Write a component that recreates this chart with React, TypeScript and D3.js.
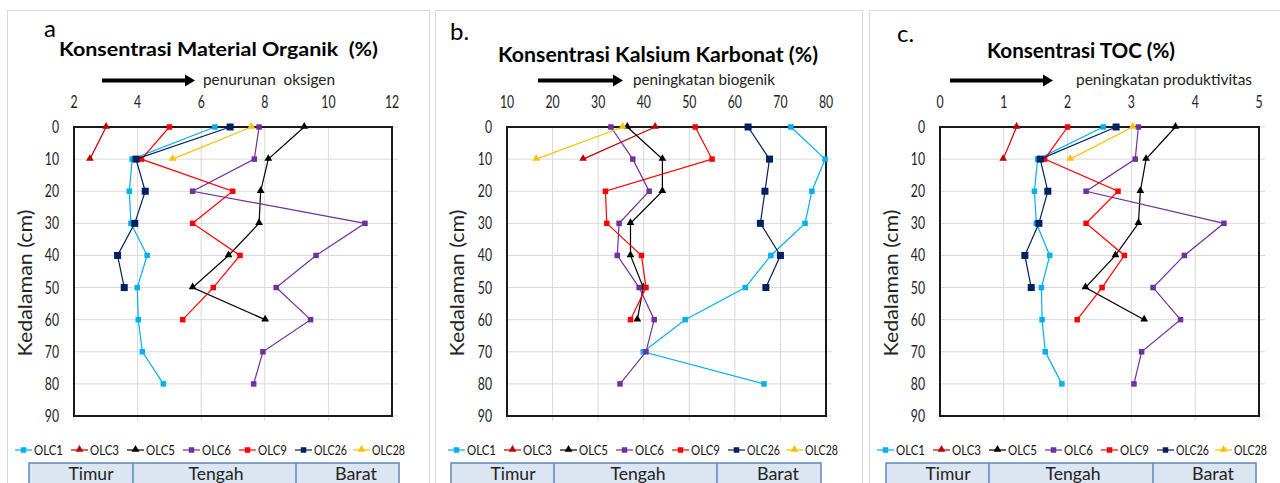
// @ts-nocheck
import React, { useEffect, useRef } from 'react';
import * as d3 from 'd3';

const depths = [0, 10, 20, 30, 40, 50, 60, 70, 80];
const cores = ['OLC1', 'OLC3', 'OLC5', 'OLC6', 'OLC9', 'OLC26', 'OLC28'];
const colors = ['#00b0f0', '#c00000', '#000000', '#7030a0', '#ff0000', '#002060', '#ffc000'];
const shapes = ['square', 'triangle', 'triangle', 'square', 'square', 'bigsquare', 'triangle'];
const regions = ['Timur', 'Tengah', 'Barat'];

// a. organic matter (%)
const organik = [
  [6.43, 3.83, 3.74, 3.79, 4.30, 3.99, 4.02, 4.15, 4.81],
  [3.01, 2.50],
  [9.24, 8.11, 7.87, 7.82, 6.86, 5.73, 8.01],
  [7.82, 7.67, 5.73, 11.15, 9.61, 8.36, 9.44, 7.94, 7.65],
  [5.00, 4.12, 6.99, 5.73, 7.22, 6.38, 5.42],
  [6.91, 3.95, 4.24, 3.91, 3.37, 3.58],
  [7.58, 5.10],
];

// b. calcium carbonate (%)
const karbonat = [
  [72.3, 79.8, 76.9, 75.4, 67.9, 62.3, 49.1, 39.9, 66.4],
  [42.5, 26.7],
  [36.4, 44.1, 44.1, 37.1, 37.1, 39.9, 38.6],
  [32.8, 37.6, 41.2, 34.6, 34.2, 39.0, 42.3, 40.5, 34.8],
  [51.3, 55.0, 31.6, 31.9, 39.5, 40.5, 37.1],
  [62.9, 67.6, 66.6, 65.6, 70.0, 66.8],
  [35.4, 16.4],
];

// c. TOC (%)
const toc = [
  [2.56, 1.53, 1.48, 1.51, 1.72, 1.59, 1.60, 1.65, 1.91],
  [1.20, 0.99],
  [3.69, 3.23, 3.14, 3.11, 2.75, 2.28, 3.20],
  [3.11, 3.06, 2.29, 4.45, 3.83, 3.34, 3.77, 3.16, 3.04],
  [2.00, 1.64, 2.79, 2.29, 2.89, 2.54, 2.15],
  [2.76, 1.57, 1.69, 1.55, 1.33, 1.43],
  [3.02, 2.04],
];

const panels = [
  {
    letter: 'a', letterX: 44, letterY: 37,
    title: 'Konsentrasi Material Organik  (%)', titleX: 59, titleY: 56, titleW: 319, titleSize: 19,
    note: 'penurunan  oksigen', noteX: 203, noteW: 132, arrow: [102, 195],
    box: [7, 429], plot: [74, 392], domain: [2, 12], ticks: [2, 4, 6, 8, 10, 12],
    yLabelX: 26, yTickX: 59, legendX: 15, table: [29, 133, 296, 399], data: organik,
  },
  {
    letter: 'b.', letterX: 450, letterY: 40,
    title: 'Konsentrasi Kalsium Karbonat (%)', titleX: 498, titleY: 62, titleW: 320, titleSize: 20,
    note: 'peningkatan biogenik', noteX: 633, noteW: 142, arrow: [538, 623],
    box: [435, 862], plot: [507, 826], domain: [10, 80], ticks: [10, 20, 30, 40, 50, 60, 70, 80],
    yLabelX: 458, yTickX: 492, legendX: 448, table: [451, 554, 717, 821], data: karbonat,
  },
  {
    letter: 'c.', letterX: 897, letterY: 42,
    title: 'Konsentrasi TOC (%)', titleX: 987, titleY: 58, titleW: 188, titleSize: 20,
    note: 'peningkatan produktivitas', noteX: 1076, noteW: 176, arrow: [950, 1053],
    box: [869, 1290], plot: [940, 1259], domain: [0, 5], ticks: [0, 1, 2, 3, 4, 5],
    yLabelX: 892, yTickX: 925, legendX: 877, table: [886, 989, 1153, 1256], data: toc,
  },
];

const FONT = 'Lato, "Open Sans", sans-serif';

function drawMarker(g, shape, color, x, y) {
  if (shape === 'triangle') {
    g.append('path')
      .attr('d', d3.symbol().type(d3.symbolTriangle).size(26)())
      .attr('transform', `translate(${x},${y - 0.5})`)
      .attr('fill', color);
  } else {
    const s = shape === 'bigsquare' ? 7 : 5.5;
    g.append('rect')
      .attr('x', x - s / 2).attr('y', y - s / 2)
      .attr('width', s).attr('height', s)
      .attr('fill', color);
  }
}

export default function App() {
  const svgRef = useRef();

  useEffect(() => {
    const svg = d3.select(svgRef.current);
    svg.selectAll('*').remove();

    const y = d3.scaleLinear().domain([0, 90]).range([127, 416]);
    const yTicks = d3.range(0, 91, 10);

    panels.forEach(p => {
      const g = svg.append('g');
      const x = d3.scaleLinear().domain(p.domain).range(p.plot);

      // outer chart box
      g.append('rect')
        .attr('x', p.box[0] + 0.5).attr('y', 10.5)
        .attr('width', p.box[1] - p.box[0]).attr('height', 500)
        .attr('fill', '#fff').attr('stroke', '#d9d9d9');

      g.append('text').text(p.letter)
        .attr('x', p.letterX).attr('y', p.letterY)
        .attr('font-size', 24).attr('font-family', FONT);

      g.append('text').text(p.title)
        .attr('x', p.titleX).attr('y', p.titleY)
        .style('white-space', 'pre')
        .attr('textLength', p.titleW).attr('lengthAdjust', 'spacingAndGlyphs')
        .attr('font-size', p.titleSize).attr('font-weight', 'bold').attr('font-family', FONT);

      // arrow
      g.append('line')
        .attr('x1', p.arrow[0]).attr('x2', p.arrow[1] - 9)
        .attr('y1', 80.5).attr('y2', 80.5)
        .attr('stroke', '#000').attr('stroke-width', 4);
      g.append('path')
        .attr('d', `M${p.arrow[1] - 10},74.5 L${p.arrow[1]},80.5 L${p.arrow[1] - 10},86.5 Z`)
        .attr('fill', '#000');

      g.append('text').text(p.note)
        .attr('x', p.noteX).attr('y', 85)
        .style('white-space', 'pre')
        .attr('textLength', p.noteW).attr('lengthAdjust', 'spacingAndGlyphs')
        .attr('font-size', 15).attr('font-family', FONT).attr('fill', '#222');

      // grid
      g.selectAll('.vg').data(p.ticks).join('line')
        .attr('x1', d => x(d)).attr('x2', d => x(d))
        .attr('y1', 127).attr('y2', 421)
        .attr('stroke', '#d9d9d9').attr('stroke-width', 1);
      g.selectAll('.hg').data(yTicks).join('line')
        .attr('x1', p.plot[0]).attr('x2', p.plot[1] + 6)
        .attr('y1', d => y(d)).attr('y2', d => y(d))
        .attr('stroke', '#d9d9d9').attr('stroke-width', 1);

      g.append('rect')
        .attr('x', p.plot[0]).attr('y', 127)
        .attr('width', p.plot[1] - p.plot[0]).attr('height', 416 - 127)
        .attr('fill', 'none').attr('stroke', '#1a1a1a').attr('stroke-width', 2);

      // tick labels
      p.ticks.forEach(t => {
        g.append('text').text(t)
          .attr('transform', `translate(${x(t)},108) scale(0.72,1)`)
          .attr('text-anchor', 'middle')
          .attr('font-size', 17).attr('font-family', FONT).attr('fill', '#222');
      });
      yTicks.forEach(t => {
        g.append('text').text(t)
          .attr('transform', `translate(${p.yTickX},${y(t) + 6}) scale(0.72,1)`)
          .attr('text-anchor', 'end')
          .attr('font-size', 17).attr('font-family', FONT).attr('fill', '#222');
      });

      g.append('text').text('Kedalaman (cm)')
        .attr('transform', `translate(${p.yLabelX + 6},283) rotate(-90)`)
        .attr('text-anchor', 'middle')
        .attr('textLength', 147).attr('lengthAdjust', 'spacingAndGlyphs')
        .attr('font-size', 19).attr('font-family', FONT).attr('fill', '#222');

      // series
      const line = d3.line().x(d => x(d[0])).y(d => y(d[1]));
      p.data.forEach((vals, i) => {
        const pts = vals.map((v, k) => [v, depths[k]]);
        g.append('path')
          .attr('d', line(pts))
          .attr('fill', 'none').attr('stroke', colors[i]).attr('stroke-width', 1.2);
        pts.forEach(pt => drawMarker(g, shapes[i], colors[i], x(pt[0]), y(pt[1])));
      });

      // legend
      let lx = p.legendX;
      cores.forEach((c, i) => {
        const w = c.length > 4 ? 33 : 29;
        g.append('line')
          .attr('x1', lx).attr('x2', lx + 17).attr('y1', 450).attr('y2', 450)
          .attr('stroke', colors[i]).attr('stroke-width', 1.2);
        drawMarker(g, shapes[i] === 'bigsquare' ? 'square' : shapes[i], colors[i], lx + 8.5, 450);
        g.append('text').text(c)
          .attr('x', lx + 19).attr('y', 455)
          .attr('textLength', w).attr('lengthAdjust', 'spacingAndGlyphs')
          .attr('font-size', 13).attr('font-family', FONT).attr('fill', '#111');
        lx += c.length > 4 ? 58 : 56;
      });

      // region table
      const tb = p.table;
      g.append('rect')
        .attr('x', tb[0]).attr('y', 463)
        .attr('width', tb[3] - tb[0]).attr('height', 40)
        .attr('fill', '#dce6f2').attr('stroke', '#5b87bd').attr('stroke-width', 1.5);
      [tb[1], tb[2]].forEach(dx => {
        g.append('line')
          .attr('x1', dx).attr('x2', dx).attr('y1', 463).attr('y2', 503)
          .attr('stroke', '#5b87bd').attr('stroke-width', 1.5);
      });
      const centres = [tb[0] + 62, tb[0] + 187, tb[0] + 327];
      const widths = [45, 55, 42];
      regions.forEach((r, i) => {
        g.append('text').text(r)
          .attr('x', centres[i]).attr('y', 480)
          .attr('text-anchor', 'middle')
          .attr('textLength', widths[i]).attr('lengthAdjust', 'spacingAndGlyphs')
          .attr('font-size', 17).attr('font-family', FONT).attr('fill', '#222');
      });
    });
  }, []);

  return (
    <svg
      ref={svgRef}
      width={1280}
      height={483}
      style={{ position: 'absolute', left: 0, top: 0, display: 'block', background: '#fff' }}
    />
  );
}
